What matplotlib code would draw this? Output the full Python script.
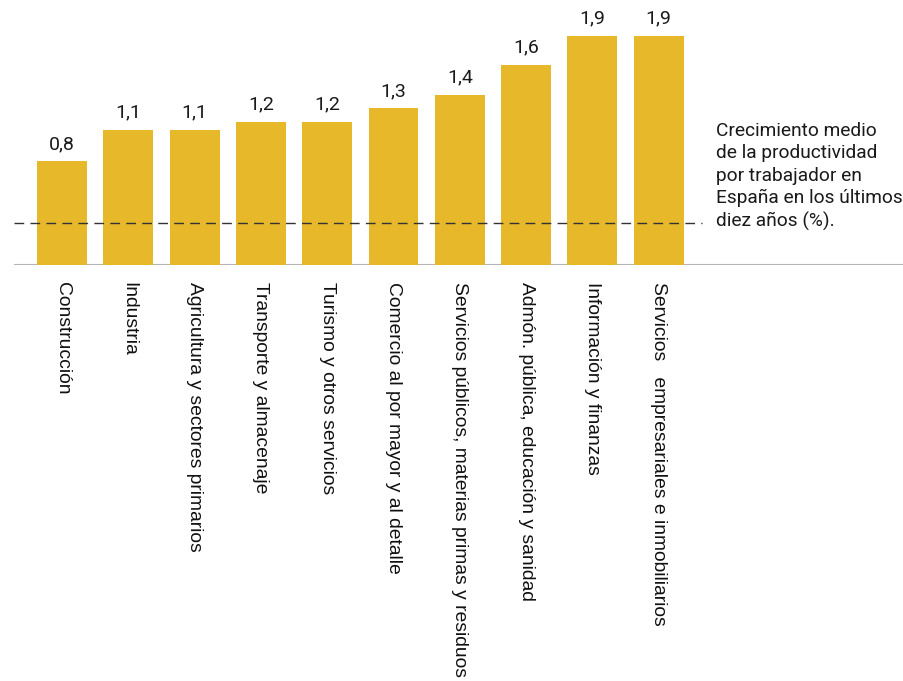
import matplotlib.pyplot as plt
import numpy as np

# sectors, left to right
sectors = [
    'Construcción',
    'Industria',
    'Agricultura y sectores primarios',
    'Transporte y almacenaje',
    'Turismo y otros servicios',
    'Comercio al por mayor y al detalle',
    'Servicios públicos, materias primas y residuos',
    'Admón. pública, educación y sanidad',
    'Información y finanzas',
    'Servicios   empresariales e inmobiliarios',
]
# bar heights (%), with the printed labels
growth = [0.86, 1.12, 1.12, 1.19, 1.19, 1.30, 1.41, 1.66, 1.90, 1.90]
growth_labels = ['0,8', '1,1', '1,1', '1,2', '1,2', '1,3', '1,4', '1,6',
                 '1,9', '1,9']
spain_avg = 0.35
avg_note = ('Crecimiento medio\nde la productividad\npor trabajador en\n'
            'España en los últimos\ndiez años (%).')

bar_color = '#E6B82A'
label_font = 'Roboto'
cat_font = 'Liberation Sans'

fig = plt.figure(figsize=(9.04, 6.81), dpi=100)
# axes placed in pixel terms: baseline at y=265, spans x=14..904
ax = fig.add_axes([14 / 904, 1 - 265 / 681, 890 / 904, 2.1 * 120.5 / 681])

x = np.arange(len(sectors))
ax.bar(x, growth, width=0.754, color=bar_color, zorder=2)

for xi, h, lab in zip(x, growth, growth_labels):
    ax.annotate(lab, (xi, h), xytext=(0, 6), textcoords='offset points',
                ha='center', va='bottom', fontsize=14, family=label_font,
                color='#1a1a1a')

ax.plot([-0.724, 9.65], [spain_avg, spain_avg], color='#333333', lw=1.0,
        dashes=(7, 4.5), zorder=3, clip_on=False)
ax.text(9.86, 1.19, avg_note, ha='left', va='top',
        fontsize=13.8, family=label_font, color='#1a1a1a', linespacing=1.32)

ax.axhline(0, color='#b5b5b5', lw=1.5, zorder=1)

for xi, name in zip(x, sectors):
    ax.text(xi, -0.14, name, rotation=270, ha='center', va='top',
            fontsize=13.9, family=cat_font, color='#111111')

ax.set_xlim(-0.724, 12.7)
ax.set_ylim(0, 2.1)
ax.axis('off')

fig.savefig('out.png', dpi=100)
plt.close(fig)
